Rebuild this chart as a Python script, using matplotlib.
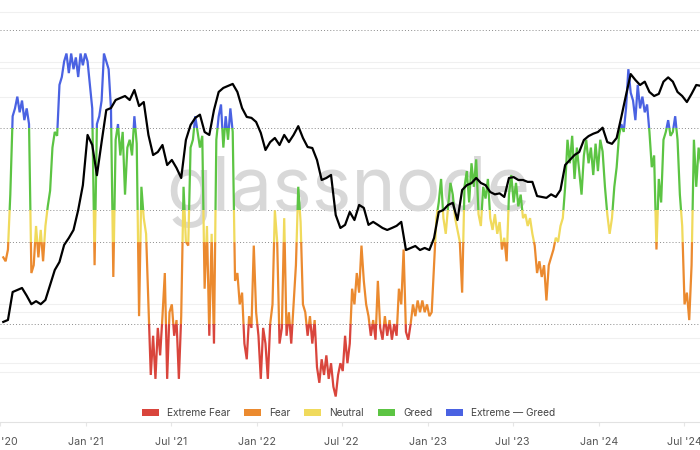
import matplotlib
matplotlib.use('Agg')
import matplotlib.pyplot as plt
import matplotlib.transforms as mtransforms
from matplotlib.patches import Rectangle, Patch
import pandas as pd

plt.rcParams['font.family'] = ['Inter', 'DejaVu Sans']

# ---------------- data ----------------
index_start = '2020-07-08'   # sampled every 5 days
fg_index = [
    42, 41, 44, 58, 78, 80, 83, 79, 82, 77,
    80, 76, 38, 40, 50, 42, 49, 41, 50, 55,
    59, 70, 74, 73, 86, 88, 92, 94, 89, 94,
    90, 93, 88, 94, 91, 94, 92, 86, 80, 40,
    76, 78, 82, 94, 92, 90, 80, 37, 72, 76,
    68, 74, 58, 70, 72, 68, 78, 71, 27, 60,
    52, 48, 30, 12, 22, 11, 24, 17, 27, 38,
    11, 28, 30, 22, 26, 11, 27, 60, 46, 45,
    70, 72, 78, 74, 70, 73, 34, 50, 22, 48,
    20, 72, 78, 81, 70, 78, 72, 80, 74, 36,
    38, 30, 33, 20, 16, 27, 24, 45, 28, 22,
    11, 24, 20, 11, 25, 30, 54, 46, 20, 24,
    52, 22, 28, 20, 30, 40, 60, 51, 30, 28,
    22, 27, 20, 26, 14, 10, 16, 12, 17, 11,
    15, 9, 6.5, 12, 15, 13, 22, 15, 20, 34,
    30, 38, 33, 45, 36, 30, 27, 22, 26, 21,
    36, 24, 21, 27, 22, 26, 21, 25, 22, 34,
    30, 44, 23, 21, 25, 30, 27, 31, 28, 31,
    28, 30, 27, 28, 40, 52, 56, 62, 52, 48,
    55, 61, 58, 52, 49, 46, 33, 60, 64, 56,
    66, 60, 67, 53, 50, 60, 57, 62, 52, 49,
    53, 48, 51, 44, 47, 41, 58, 63, 56, 61,
    55, 58, 52, 53, 50, 52, 48, 45, 38, 41,
    37, 40, 31, 40, 42, 44, 47, 46, 50, 52,
    60, 72, 66, 73, 62, 70, 64, 58, 68, 72,
    66, 70, 63, 71, 64, 72, 69, 60, 53, 48,
    52, 60, 65, 73, 76, 74, 80, 90, 84, 82,
    77, 86, 80, 83, 79, 81, 74, 65, 68, 44,
    62, 56, 72, 74, 77, 73, 74, 78, 72, 58,
    50, 30, 33, 26, 40, 72, 60, 70, 66,
]

price_start = '2020-07-08'   # sampled every 10 days
btc_price = [
    8980, 9130, 11560, 11760, 11960, 11210, 10430, 10700, 10430, 10810,
    12280, 13920, 14900, 17200, 18240, 19520, 23100, 28500, 43550, 40000,
    31000, 41000, 53760, 54650, 58500, 59500, 60500, 58500, 63660, 55600,
    57500, 43550, 36760, 37700, 40000, 33780, 35250, 32950, 30280, 41730,
    47350, 50300, 51680, 44640, 43550, 53760, 62600, 64780, 65900, 67000,
    62600, 54650, 50700, 50300, 48600, 44300, 38350, 41000, 42450, 40000,
    43550, 41000, 43550, 46900, 42450, 39330, 39000, 35250, 29770, 30280,
    31060, 22150, 19850, 20380, 22720, 21230, 24110, 23520, 20380, 20900,
    20380, 19850, 19520, 19850, 20210, 20900, 16480, 16770, 17050, 16480,
    16770, 16480, 18240, 22720, 23100, 24110, 24550, 21230, 27360, 28500,
    29000, 30280, 29030, 28500, 26900, 26370, 26600, 25800, 30280, 30500,
    29770, 29770, 29300, 29300, 26000, 25800, 25600, 26370, 25800, 27360,
    33780, 35250, 36760, 37700, 41730, 43120, 44000, 44640, 46300, 41000,
    40400, 42450, 50700, 61000, 72800, 69260, 66400, 68300, 62600, 60500,
    61600, 68300, 70800, 68300, 62600, 60500, 57500, 61600, 66400, 65900,
]

band_edges = [0, 25, 46, 54, 75, 110]
band_names = ['Extreme Fear', 'Fear', 'Neutral', 'Greed', 'Extreme \u2014 Greed']
band_colors = ['#d9453c', '#eb8a2f', '#f0da5c', '#5cc443', '#4a62e2']
threshold_levels = [25, 46, 54, 75, 100]
faint_levels = [104.6, 91.8, 90.3, 82.9, 30.1, 28.1, 21.4, 15.1, 12.8]

tick_dates = ['2020-07-01', '2021-01-01', '2021-07-01', '2022-01-01', '2022-07-01',
              '2023-01-01', '2023-07-01', '2024-01-01', '2024-07-01']
tick_labels = ["Jul '20", "Jan '21", "Jul '21", "Jan '22", "Jul '22",
               "Jan '23", "Jul '23", "Jan '24", "Jul '24"]

# ---------------- figure ----------------
idx_dates = pd.date_range(index_start, periods=len(fg_index), freq='5D')
px_dates = pd.date_range(price_start, periods=len(btc_price), freq='10D')

fig = plt.figure(figsize=(7, 4.5), dpi=100)
ax = fig.add_axes([0, 28 / 450, 1, 422 / 450])
ax.set_xlim(pd.Timestamp('2020-07-08 12:00'), pd.Timestamp('2024-08-04'))
ax.set_ylim(0, 107.65)

for lv in faint_levels:
    ax.axhline(lv, color='#f0f0f0', lw=0.8, zorder=0)
for lv in threshold_levels:
    ax.axhline(lv, color='#8a8a8a', lw=0.7, ls=(0, (1, 2.2)), zorder=1)

ax.text(0.497, 0.502, 'glassnode', transform=ax.transAxes, ha='center',
        va='baseline', fontsize=54, color='#d8d8d8', zorder=1)

trans = mtransforms.blended_transform_factory(ax.transAxes, ax.transData)
for lo, hi, col in zip(band_edges[:-1], band_edges[1:], band_colors):
    ln, = ax.plot(idx_dates, fg_index, color=col, lw=1.6, zorder=3,
                  solid_joinstyle='miter')
    rect = Rectangle((0, lo), 1, hi - lo, transform=trans)
    ln.set_clip_path(rect)

ax2 = ax.twinx()
ax2.set_yscale('log')
ax2.set_ylim(3857, 136100)
ax2.plot(px_dates, btc_price, color='black', lw=1.6, zorder=4)
ax2.set_yticks([])
ax2.yaxis.set_minor_locator(matplotlib.ticker.NullLocator())
for s in ax2.spines.values():
    s.set_visible(False)

for side in ['top', 'left', 'right']:
    ax.spines[side].set_visible(False)
ax.spines['bottom'].set_color('#e2e2e2')
ax.spines['bottom'].set_linewidth(0.8)
ax.set_yticks([])
ax.set_xticks([pd.Timestamp(d) for d in tick_dates])
ax.set_xticklabels(tick_labels)
ax.tick_params(axis='x', length=3, color='#e6e6e6', pad=8, labelsize=7.7,
               labelcolor='#555555')

handles = [Patch(facecolor=c, edgecolor='none') for c in band_colors]
leg = fig.legend(handles, band_names, loc='center', bbox_to_anchor=(0.498, 1 - 413 / 450),
                 ncol=5, frameon=False, fontsize=7.3, handlelength=1.68, handleheight=0.74,
                 handletextpad=0.79, columnspacing=1.39)
for t in leg.get_texts():
    t.set_color('#444444')

fig.savefig('out.png', dpi=100)
